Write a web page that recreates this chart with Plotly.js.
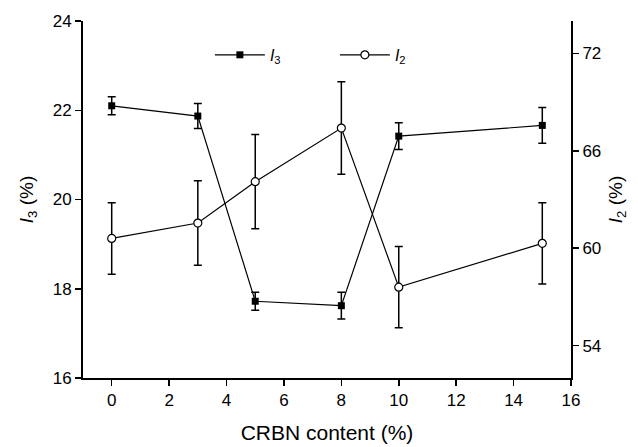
<!DOCTYPE html>
<html><head><meta charset="utf-8">
<script src="https://cdn.plot.ly/plotly-3.0.1.min.js"></script>
<style>body{margin:0;background:#fff}#c{width:638px;height:447px}</style>
</head><body><div id="c"></div>
<script>
const crbn = [0, 3, 5, 8, 10, 15];
const i3 = [22.1, 21.87, 17.72, 17.62, 21.42, 21.66];
const i3Err = [0.2, 0.28, 0.2, 0.3, 0.3, 0.4];
const i2 = [60.6, 61.55, 64.1, 67.4, 57.6, 60.3];
const i2Err = [2.2, 2.6, 2.9, 2.85, 2.5, 2.5];

const font = {family: 'Liberation Sans, Arial, sans-serif', size: 17, color: '#000'};
const traces = [
  {x: crbn, y: i3, name: '<i>I</i><sub>3</sub>', type: 'scatter', mode: 'lines+markers',
   line: {color: '#000', width: 1.2},
   marker: {symbol: 'square', size: 7, color: '#000'},
   error_y: {type: 'data', array: i3Err, color: '#000', thickness: 1.5, width: 4}},
  {x: crbn, y: i2, name: '<i>I</i><sub>2</sub>', type: 'scatter', mode: 'lines+markers', yaxis: 'y2',
   line: {color: '#000', width: 1.2},
   marker: {symbol: 'circle', size: 8, color: '#fff', line: {color: '#000', width: 1.2}},
   error_y: {type: 'data', array: i2Err, color: '#000', thickness: 1.5, width: 4}}
];
const axisStyle = {showgrid: false, zeroline: false, showline: true, linecolor: '#000', linewidth: 2,
  ticks: 'outside', ticklen: 6, tickwidth: 1.5, tickcolor: '#000', tickfont: {size: 17}};
const layout = {
  width: 638, height: 447,
  margin: {l: 83, r: 67, t: 21, b: 69},
  paper_bgcolor: '#fff', plot_bgcolor: '#fff',
  font: font,
  showlegend: true,
  legend: {orientation: 'h', x: 0.26, y: 0.905, xanchor: 'left', yanchor: 'middle',
           bgcolor: 'rgba(0,0,0,0)', font: {size: 16}, itemwidth: 50,
           entrywidth: 60, entrywidthmode: 'pixels'},
  xaxis: Object.assign({}, axisStyle, {range: [-1, 16], tickvals: [0,2,4,6,8,10,12,14,16],
          title: {text: 'CRBN content (%)', font: {size: 21}, standoff: 16}}),
  yaxis: Object.assign({}, axisStyle, {range: [16, 24], dtick: 2,
          title: {text: '<i>I</i><sub>3</sub> (%)', font: {size: 19}, standoff: 14}}),
  yaxis2: Object.assign({}, axisStyle, {range: [52, 74], tickvals: [54, 60, 66, 72], overlaying: 'y', side: 'right',
          title: {text: '<i>I</i><sub>2</sub> (%)', font: {size: 19}, standoff: 8}})
};
Plotly.newPlot('c', traces, layout, {displayModeBar: false, staticPlot: true});
</script></body></html>
